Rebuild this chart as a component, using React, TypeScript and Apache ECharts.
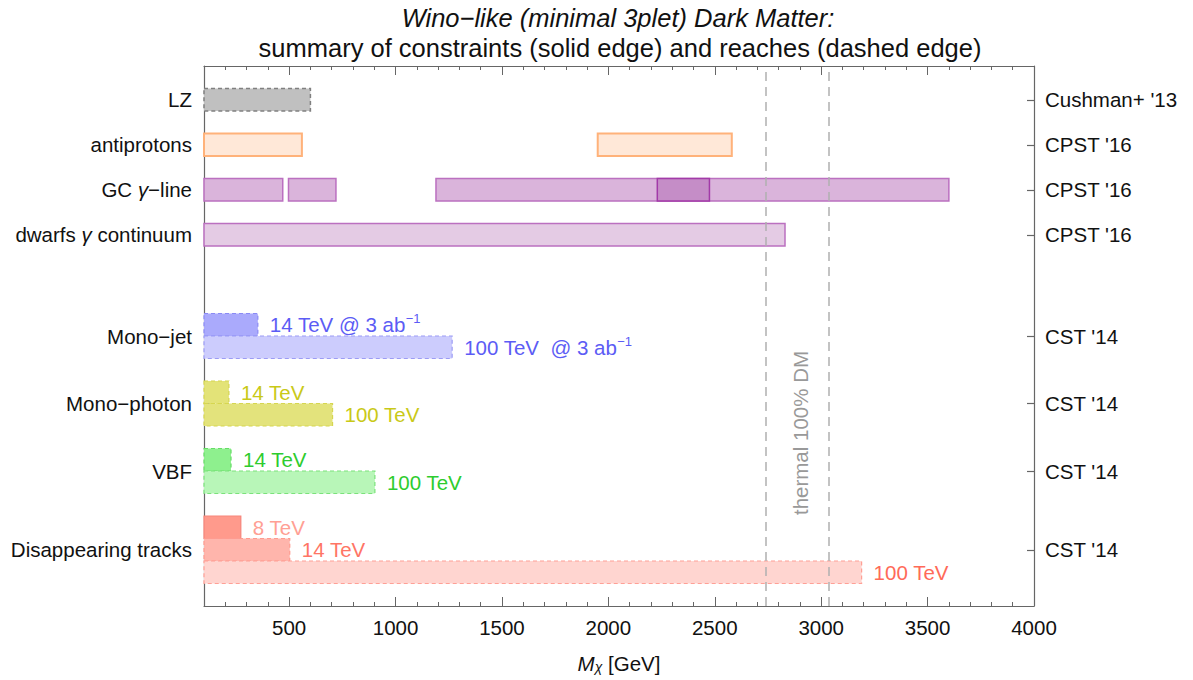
import React, { useEffect, useRef } from "react";
import * as echarts from "echarts";

// ---------- data ----------
const massMin = 100;
const massMax = 4000;
const majorTicks = [500, 1000, 1500, 2000, 2500, 3000, 3500, 4000];

const rowLabels = ["LZ", "antiprotons", "GC {g|γ}−line", "dwarfs {g|γ} continuum", "Mono−jet", "Mono−photon", "VBF", "Disappearing tracks"];
const rowRefs = ["Cushman+ '13", "CPST '16", "CPST '16", "CPST '16", "CST '14", "CST '14", "CST '14", "CST '14"];
const rowCenters = [11.25, 10.25, 9.25, 8.25, 6, 4.5, 3, 1.25];

const lzRange = [100, 600];
const antiprotonRanges = [[100, 560], [1950, 2580]];
const gcLineRanges = [[100, 470], [497, 720], [1190, 3600]];
const gcLineOverlap = [2230, 2475];
const dwarfsRange = [100, 2830];
const monoJetReach = [353, 1266]; // 14 TeV, 100 TeV
const monoPhotonReach = [217, 704]; // 14 TeV, 100 TeV
const vbfReach = [227, 903]; // 14 TeV, 100 TeV
const disappearingReach = [273, 503, 3190]; // 8 TeV, 14 TeV, 100 TeV
const thermalMass = [2740, 3035];

// ---------- styles ----------
const FONT = '"Liberation Sans", Arial, sans-serif';
const DASH = [4, 3];
type St = { fill: string; stroke: string; dash?: number[] | null; lw: number; text?: string };
const S: Record<string, St> = {
  lz: { fill: "#c0c0c0", stroke: "#808080", dash: DASH, lw: 1.5 },
  anti: { fill: "#ffe8d8", stroke: "#ffb27a", lw: 2 },
  gc: { fill: "#dab4db", stroke: "#bb70c0", lw: 1.5 },
  gcO: { fill: "#c58dc7", stroke: "#a23aa8", lw: 1.5 },
  dw: { fill: "#e4cbe4", stroke: "#bb70c0", lw: 1.5 },
  mj14: { fill: "#aaaafc", stroke: "#8a8af5", dash: DASH, lw: 1.2, text: "#5c5cf5" },
  mj100: { fill: "#ccccfd", stroke: "#9c9cf5", dash: DASH, lw: 1.2, text: "#5c5cf5" },
  mp14: { fill: "#e3e378", stroke: "#d6d650", dash: DASH, lw: 1.2, text: "#c9c918" },
  mp100: { fill: "#e3e37c", stroke: "#d6d650", dash: DASH, lw: 1.2, text: "#c9c918" },
  vb14: { fill: "#8ef08e", stroke: "#66dd66", dash: DASH, lw: 1.2, text: "#2ecc2e" },
  vb100: { fill: "#b8f6b8", stroke: "#7be27b", dash: DASH, lw: 1.2, text: "#2ecc2e" },
  d8: { fill: "#ff9a8c", stroke: "#f7857a", lw: 1.2, text: "#ffa094" },
  d14: { fill: "#ffb5ac", stroke: "#ff9b8f", dash: DASH, lw: 1.2, text: "#ff7565" },
  d100: { fill: "#ffd5d0", stroke: "#ffa096", dash: DASH, lw: 1.2, text: "#ff6a58" },
};

type Item = { x0: number; x1: number; y0: number; y1: number; s: string; label?: string };
const items: Item[] = [];
const add = (x0: number, x1: number, row: number, lo: number, hi: number, s: string, label?: string) =>
  items.push({ x0, x1, y0: rowCenters[row] + lo, y1: rowCenters[row] + hi, s, label });

add(lzRange[0], lzRange[1], 0, -0.25, 0.25, "lz");
antiprotonRanges.forEach((r) => add(r[0], r[1], 1, -0.25, 0.25, "anti"));
gcLineRanges.forEach((r) => add(r[0], r[1], 2, -0.25, 0.25, "gc"));
add(gcLineOverlap[0], gcLineOverlap[1], 2, -0.25, 0.25, "gcO");
add(dwarfsRange[0], dwarfsRange[1], 3, -0.25, 0.25, "dw");
add(massMin, monoJetReach[0], 4, 0, 0.5, "mj14", "14 TeV @ 3 ab{sup|−1}");
add(massMin, monoJetReach[1], 4, -0.5, 0, "mj100", "100 TeV  @ 3 ab{sup|−1}");
add(massMin, monoPhotonReach[0], 5, 0, 0.5, "mp14", "14 TeV");
add(massMin, monoPhotonReach[1], 5, -0.5, 0, "mp100", "100 TeV");
add(massMin, vbfReach[0], 6, 0, 0.5, "vb14", "14 TeV");
add(massMin, vbfReach[1], 6, -0.5, 0, "vb100", "100 TeV");
add(massMin, disappearingReach[0], 7, 0.25, 0.75, "d8", "8 TeV");
add(massMin, disappearingReach[1], 7, -0.25, 0.25, "d14", "14 TeV");
add(massMin, disappearingReach[2], 7, -0.75, -0.25, "d100", "100 TeV");

const LBL = 20.5;

export default function App() {
  const ref = useRef<HTMLDivElement>(null);
  useEffect(() => {
    const chart = echarts.init(ref.current!, null, { renderer: "svg" });
    const axisColor = "#666";
    const labelFor = (arr: string[]) => (v: number) => {
      const i = rowCenters.findIndex((c) => Math.abs(c - v) < 1e-6);
      return i >= 0 ? arr[i] : "";
    };
    chart.setOption({
      animation: false,
      backgroundColor: "#fff",
      grid: { left: 204, right: 159, top: 66, bottom: 74, containLabel: false },
      xAxis: [
        {
          type: "value", position: "bottom", min: massMin, max: massMax,
          axisLine: { show: true, lineStyle: { color: axisColor, width: 1.2 } },
          axisTick: { show: true, inside: true, length: 9, customValues: majorTicks, lineStyle: { color: axisColor } },
          axisLabel: {
            show: true, customValues: majorTicks, margin: 11, fontSize: LBL, fontFamily: FONT, color: "#111",
            formatter: (v: number) => String(v),
          },
          splitLine: { show: false },
          name: "{i|M}{s|χ} [GeV]", nameLocation: "middle", nameGap: 46,
          nameTextStyle: {
            fontSize: LBL, fontFamily: FONT, color: "#111",
            rich: {
              i: { fontStyle: "italic", fontSize: LBL, fontFamily: FONT, color: "#111" },
              s: { fontStyle: "italic", fontSize: 14, fontFamily: FONT, color: "#111", verticalAlign: "bottom", padding: [8, 0, 0, 0] },
            },
          },
        },
        {
          type: "value", position: "bottom", min: massMin, max: massMax, interval: 100,
          axisLine: { show: false }, axisLabel: { show: false }, splitLine: { show: false },
          axisTick: { show: true, inside: true, length: 4, lineStyle: { color: axisColor } },
        },
        {
          type: "value", position: "top", min: massMin, max: massMax,
          axisLine: { show: true, lineStyle: { color: axisColor, width: 1.2 } },
          axisTick: { show: true, inside: true, length: 9, customValues: majorTicks, lineStyle: { color: axisColor } },
          axisLabel: { show: false }, splitLine: { show: false },
        },
        {
          type: "value", position: "top", min: massMin, max: massMax, interval: 100,
          axisLine: { show: false }, axisLabel: { show: false }, splitLine: { show: false },
          axisTick: { show: true, inside: true, length: 4, lineStyle: { color: axisColor } },
        },
      ],
      yAxis: [
        {
          type: "value", position: "left", min: 0, max: 12,
          axisLine: { show: true, lineStyle: { color: axisColor, width: 1.2 } },
          axisTick: { show: true, inside: true, length: 7, customValues: rowCenters, lineStyle: { color: axisColor, width: 1.2 } },
          axisLabel: {
            show: true, customValues: rowCenters, formatter: labelFor(rowLabels), margin: 12,
            fontSize: LBL, fontFamily: FONT, color: "#111",
            rich: { g: { fontStyle: "italic", fontSize: LBL, fontFamily: FONT, color: "#111" } },
          },
          splitLine: { show: false },
        },
        {
          type: "value", position: "right", min: 0, max: 12,
          axisLine: { show: true, lineStyle: { color: axisColor, width: 1.2 } },
          axisTick: { show: true, inside: true, length: 7, customValues: rowCenters, lineStyle: { color: axisColor, width: 1.2 } },
          axisLabel: {
            show: true, customValues: rowCenters, formatter: labelFor(rowRefs), margin: 11,
            fontSize: LBL, fontFamily: FONT, color: "#111",
          },
          splitLine: { show: false },
        },
      ],
      series: [
        {
          type: "custom",
          xAxisIndex: 0, yAxisIndex: 0,
          data: items.map((it) => [it.x0, it.x1, it.y0, it.y1]),
          renderItem: (params: any, api: any) => {
            const it = items[params.dataIndex];
            const st = S[it.s];
            const p0 = api.coord([api.value(0), api.value(3)]);
            const p1 = api.coord([api.value(1), api.value(2)]);
            const children: any[] = [
              {
                type: "rect",
                shape: { x: p0[0], y: p0[1], width: p1[0] - p0[0], height: p1[1] - p0[1] },
                style: { fill: st.fill, stroke: st.stroke, lineWidth: st.lw, lineDash: st.dash || null },
              },
            ];
            if (it.label) {
              children.push({
                type: "text",
                style: {
                  text: it.label, x: p1[0] + 12, y: (p0[1] + p1[1]) / 2,
                  verticalAlign: "middle", align: "left",
                  fill: st.text, fontSize: LBL, fontFamily: FONT,
                  rich: { sup: { fontSize: 13, fontFamily: FONT, fill: st.text, color: st.text, padding: [0, 0, 12, 0] } },
                },
              });
            }
            return { type: "group", children };
          },
          markLine: {
            silent: true, symbol: ["none", "none"], z: 5,
            label: { show: false },
            lineStyle: { color: "#b0b0b0", type: [9, 6], width: 1.5 },
            data: thermalMass.map((m) => ({ xAxis: m })),
          },
        },
      ],
      graphic: [
        {
          type: "text", x: 618, y: 18,
          style: { text: "Wino−like (minimal 3plet) Dark Matter:", font: `italic 25.5px ${FONT}`, fill: "#111", align: "center", verticalAlign: "middle" },
        },
        {
          type: "text", x: 620, y: 48,
          style: { text: "summary of constraints (solid edge) and reaches (dashed edge)", font: `25.5px ${FONT}`, fill: "#111", align: "center", verticalAlign: "middle" },
        },
        {
          type: "text", x: 800, y: 433, rotation: Math.PI / 2,
          style: { text: "thermal 100% DM", font: `20.5px ${FONT}`, fill: "#999", align: "center", verticalAlign: "middle" },
        },
      ],
    });
    return () => chart.dispose();
  }, []);
  return <div ref={ref} style={{ position: "fixed", left: 0, top: 0, width: 1193, height: 680 }} />;
}
